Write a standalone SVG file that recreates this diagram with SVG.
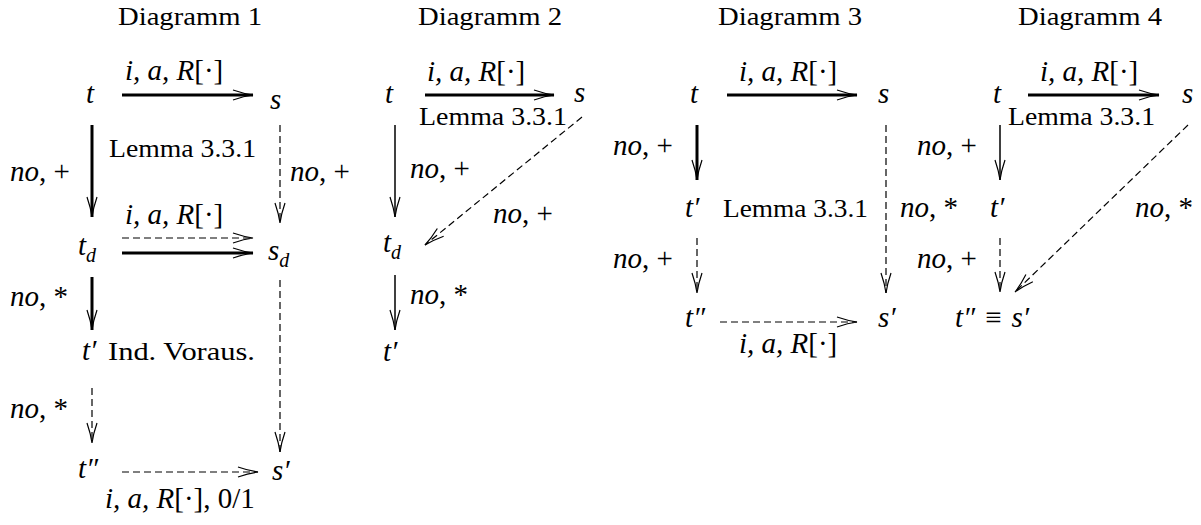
<svg xmlns="http://www.w3.org/2000/svg" width="1201" height="525" viewBox="0 0 1201 525">
<style>
.m{font-family:"Liberation Serif","DejaVu Serif",serif;font-style:italic;font-size:29px;fill:#000}
.r{font-family:"Liberation Serif","DejaVu Serif",serif;font-style:normal;font-size:26px;fill:#000}
.u{font-style:normal}
.sub{font-size:20px}
.c{fill:none;stroke:#000}
.thick{stroke-width:3}
.thin{stroke-width:1.5}
.dash{stroke-width:1.2;stroke-dasharray:7 4}
</style>
<defs>
<marker id="ah" markerUnits="userSpaceOnUse" viewBox="-24 -8 28 16" refX="0" refY="0" markerWidth="28" markerHeight="16" orient="auto" overflow="visible">
<path d="M-20,-5 Q-9,-1.2 0,0 Q-9,1.2 -20,5" fill="none" stroke="#000" stroke-width="1.2"/>
</marker>
</defs>
<rect width="1201" height="525" fill="#fff"/>

<g id="connectors">
<line class="c thick" x1="122" y1="95" x2="253" y2="95" marker-end="url(#ah)"/>
<line class="c thick" x1="92" y1="125" x2="92" y2="217" marker-end="url(#ah)"/>
<line class="c dash" x1="280" y1="125" x2="280" y2="223" marker-end="url(#ah)"/>
<line class="c dash" x1="122" y1="238" x2="253" y2="238" marker-end="url(#ah)"/>
<line class="c thick" x1="122" y1="253" x2="253" y2="253" marker-end="url(#ah)"/>
<line class="c thick" x1="92" y1="277" x2="92" y2="330" marker-end="url(#ah)"/>
<line class="c dash" x1="92" y1="388" x2="92" y2="443" marker-end="url(#ah)"/>
<line class="c dash" x1="280" y1="280" x2="280" y2="452" marker-end="url(#ah)"/>
<line class="c dash" x1="122" y1="472" x2="258" y2="472" marker-end="url(#ah)"/>
<line class="c thick" x1="425" y1="95" x2="554" y2="95" marker-end="url(#ah)"/>
<line class="c thin" x1="395" y1="125" x2="395" y2="217" marker-end="url(#ah)"/>
<line class="c dash" x1="582" y1="117" x2="425" y2="245" marker-end="url(#ah)"/>
<line class="c thin" x1="395" y1="275" x2="395" y2="330" marker-end="url(#ah)"/>
<line class="c thick" x1="727" y1="95" x2="857" y2="95" marker-end="url(#ah)"/>
<line class="c thick" x1="697" y1="125" x2="697" y2="180" marker-end="url(#ah)"/>
<line class="c dash" x1="886" y1="125" x2="886" y2="293" marker-end="url(#ah)"/>
<line class="c dash" x1="697" y1="238" x2="697" y2="293" marker-end="url(#ah)"/>
<line class="c dash" x1="720" y1="322" x2="857" y2="322" marker-end="url(#ah)"/>
<line class="c thick" x1="1028" y1="95" x2="1159" y2="95" marker-end="url(#ah)"/>
<line class="c thin" x1="1000" y1="125" x2="1000" y2="180" marker-end="url(#ah)"/>
<line class="c dash" x1="1000" y1="238" x2="1000" y2="292" marker-end="url(#ah)"/>
<line class="c dash" x1="1188" y1="125" x2="1015" y2="292" marker-end="url(#ah)"/>
</g>

<g id="diagramm1">
<text class="r" x="118" y="25" textLength="144" lengthAdjust="spacingAndGlyphs">Diagramm 1</text>
<g id="d1-t"><text class="m" x="86" y="103">t</text></g>
<g id="d1-s"><text class="m" x="270" y="109">s</text></g>
<g id="d1-td"><text class="m" x="78" y="255">t<tspan class="sub" dy="7">d</tspan></text></g>
<g id="d1-sd"><text class="m" x="268" y="260">s<tspan class="sub" dy="7">d</tspan></text></g>
<g id="d1-tp"><text class="m" x="82" y="360">t′</text></g>
<g id="d1-tpp"><text class="m" x="78" y="478">t″</text></g>
<g id="d1-sp"><text class="m" x="272" y="480">s′</text></g>
<text class="m" x="125" y="80">i, a, R<tspan class="u">[·]</tspan></text>
<text class="m" x="10" y="181">no<tspan class="u">, +</tspan></text>
<text class="r" x="109" y="157" textLength="147" lengthAdjust="spacingAndGlyphs">Lemma 3.3.1</text>
<text class="m" x="290" y="181">no<tspan class="u">, +</tspan></text>
<text class="m" x="125" y="224">i, a, R<tspan class="u">[·]</tspan></text>
<text class="m" x="10" y="306">no<tspan class="u">, *</tspan></text>
<text class="r" x="108" y="360" textLength="147" lengthAdjust="spacingAndGlyphs">Ind. Voraus.</text>
<text class="m" x="10" y="418">no<tspan class="u">, *</tspan></text>
<text class="m" x="105" y="508">i, a, R<tspan class="u">[·], 0/1</tspan></text>
</g>

<g id="diagramm2">
<text class="r" x="418" y="25" textLength="144" lengthAdjust="spacingAndGlyphs">Diagramm 2</text>
<g id="d2-t"><text class="m" x="385" y="103">t</text></g>
<g id="d2-s"><text class="m" x="574" y="102">s</text></g>
<g id="d2-td"><text class="m" x="383" y="252">t<tspan class="sub" dy="7">d</tspan></text></g>
<g id="d2-tp"><text class="m" x="383" y="361">t′</text></g>
<text class="m" x="427" y="81">i, a, R<tspan class="u">[·]</tspan></text>
<text class="r" x="419" y="125" textLength="148" lengthAdjust="spacingAndGlyphs">Lemma 3.3.1</text>
<text class="m" x="410" y="178">no<tspan class="u">, +</tspan></text>
<text class="m" x="493" y="223">no<tspan class="u">, +</tspan></text>
<text class="m" x="410" y="304">no<tspan class="u">, *</tspan></text>
</g>

<g id="diagramm3">
<text class="r" x="718" y="25" textLength="144" lengthAdjust="spacingAndGlyphs">Diagramm 3</text>
<g id="d3-t"><text class="m" x="690" y="103">t</text></g>
<g id="d3-s"><text class="m" x="878" y="103">s</text></g>
<g id="d3-tp"><text class="m" x="685" y="217">t′</text></g>
<g id="d3-tpp"><text class="m" x="685" y="327">t″</text></g>
<g id="d3-sp"><text class="m" x="878" y="327">s′</text></g>
<text class="m" x="739" y="81">i, a, R<tspan class="u">[·]</tspan></text>
<text class="m" x="613" y="155">no<tspan class="u">, +</tspan></text>
<text class="r" x="723" y="217" textLength="145" lengthAdjust="spacingAndGlyphs">Lemma 3.3.1</text>
<text class="m" x="613" y="268">no<tspan class="u">, +</tspan></text>
<text class="m" x="900" y="217">no<tspan class="u">, *</tspan></text>
<text class="m" x="739" y="353">i, a, R<tspan class="u">[·]</tspan></text>
</g>

<g id="diagramm4">
<text class="r" x="1018" y="25" textLength="144" lengthAdjust="spacingAndGlyphs">Diagramm 4</text>
<g id="d4-t"><text class="m" x="993" y="103">t</text></g>
<g id="d4-s"><text class="m" x="1182" y="103">s</text></g>
<g id="d4-tp"><text class="m" x="990" y="217">t′</text></g>
<g id="d4-tppsp"><text class="m" x="955" y="327">t″<tspan class="u" dx="10">≡</tspan><tspan dx="10">s′</tspan></text></g>
<text class="m" x="1040" y="81">i, a, R<tspan class="u">[·]</tspan></text>
<text class="r" x="1008" y="125" textLength="147" lengthAdjust="spacingAndGlyphs">Lemma 3.3.1</text>
<text class="m" x="917" y="155">no<tspan class="u">, +</tspan></text>
<text class="m" x="917" y="268">no<tspan class="u">, +</tspan></text>
<text class="m" x="1135" y="217">no<tspan class="u">, *</tspan></text>
</g>
</svg>
